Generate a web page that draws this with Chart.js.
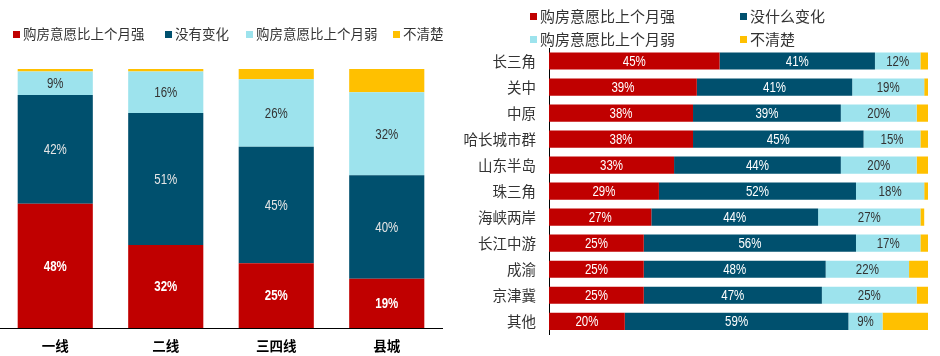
<!DOCTYPE html>
<html>
<head>
<meta charset="utf-8">
<script src="https://cdn.jsdelivr.net/npm/chart.js@4.4.1/dist/chart.umd.min.js"></script>
<style>
  html, body { margin: 0; padding: 0; background: #fff; }
  body { width: 940px; height: 356px; position: relative; overflow: hidden;
         font-family: "Noto Sans CJK SC", "Noto Sans", sans-serif; }
  .wrap { position: absolute; top: 0; height: 356px; }
  #leftWrap { left: 0; width: 470px; }
  #rightWrap { left: 440px; width: 500px; }
  .lg { position: absolute; white-space: nowrap; color: #333; line-height: 1; }
  .lg i { display: inline-block; width: 7px; height: 7px; margin-right: 3px; vertical-align: middle; position: relative; top: -1px; }
</style>
</head>
<body>
<div class="wrap" id="leftWrap"><canvas id="c1" width="470" height="356"></canvas></div>
<div class="wrap" id="rightWrap"><canvas id="c2" width="500" height="356"></canvas></div>
<div id="legends"></div>
<script>
// ---------- data ----------
const seriesNames = ["购房意愿比上个月强", "没有变化", "购房意愿比上个月弱", "不清楚"];
const rightSeriesNames = ["购房意愿比上个月强", "没什么变化", "购房意愿比上个月弱", "不清楚"];
const seriesColors = ["#C00000", "#00506E", "#9DE3ED", "#FFC000"];

const tierCategories = ["一线", "二线", "三四线", "县城"];
const tierStronger  = [48, 32, 25, 19];
const tierNoChange  = [42, 51, 45, 40];
const tierWeaker    = [9, 16, 26, 32];
const tierUnsure    = [1, 1, 4, 9];

const regionCategories = ["长三角", "关中", "中原", "哈长城市群", "山东半岛", "珠三角", "海峡两岸", "长江中游", "成渝", "京津冀", "其他"];
const regionStronger = [45, 39, 38, 38, 33, 29, 27, 25, 25, 25, 20];
const regionNoChange = [41, 41, 39, 45, 44, 52, 44, 56, 48, 47, 59];
const regionWeaker   = [12, 19, 20, 15, 20, 18, 27, 17, 22, 25, 9];
const regionUnsure   = [2, 1, 3, 2, 3, 1, 1, 2, 5, 3, 12];

// ---------- legends (HTML text) ----------
function addLegend(x, y, color, text, size) {
  const d = document.createElement('div');
  d.className = 'lg';
  d.style.left = x + 'px';
  d.style.top = (y - size / 2 - 1) + 'px';
  d.style.fontSize = size + 'px';
  d.innerHTML = '<i style="background:' + color + '"></i>' + text;
  document.getElementById('legends').appendChild(d);
}
const leftLegendX = [13, 165, 246, 393];
seriesNames.forEach((n, i) => addLegend(leftLegendX[i], 35, seriesColors[i], n, 13.5));
const rightLegendPos = [[530, 16], [740, 16], [530, 39], [740, 39]];
rightSeriesNames.forEach((n, i) => addLegend(rightLegendPos[i][0], rightLegendPos[i][1], seriesColors[i], n, 15));

// ---------- value label plugin (narrow text via horizontal scale) ----------
const labelPlugin = {
  id: 'valueLabels',
  afterDatasetsDraw(chart) {
    const ctx = chart.ctx;
    chart.data.datasets.forEach((ds, di) => {
      if (!ds.labelColor) return;
      const meta = chart.getDatasetMeta(di);
      meta.data.forEach((el, i) => {
        const p = el.getCenterPoint();
        ctx.save();
        ctx.translate(p.x, p.y);
        ctx.scale(0.82, 1);
        ctx.textAlign = 'center';
        ctx.textBaseline = 'middle';
        ctx.font = (ds.labelBold ? 'bold ' : '') + "14px 'Liberation Sans', Arial, sans-serif";
        ctx.fillStyle = ds.labelColor;
        ctx.fillText(Math.round(ds.data[i]) + '%', 0, 1);
        ctx.restore();
      });
    });
  }
};

function makeDatasets(names, arrays, labelColors, bold, barPct) {
  return names.map((n, i) => ({
    label: n,
    data: arrays[i],
    backgroundColor: seriesColors[i],
    borderWidth: 0,
    categoryPercentage: 1,
    barPercentage: barPct,
    labelColor: labelColors[i],
    labelBold: bold[i]
  }));
}

// ---------- left chart: vertical stacked ----------
new Chart(document.getElementById('c1'), {
  type: 'bar',
  data: {
    labels: tierCategories,
    datasets: makeDatasets(seriesNames, [tierStronger, tierNoChange, tierWeaker, tierUnsure],
      ['#FFFFFF', '#E6E6E6', '#333333', null], [true, false, false, false], 0.68)
  },
  plugins: [labelPlugin],
  options: {
    responsive: false,
    animation: false,
    layout: { padding: { left: 0, right: 28, top: 69, bottom: 0 } },
    plugins: { legend: { display: false }, tooltip: { enabled: false } },
    scales: {
      x: {
        stacked: true,
        grid: { display: false, drawTicks: false },
        border: { display: true, color: '#000', width: 1 },
        ticks: { color: '#000', padding: 10, font: { family: "'Noto Sans CJK SC', sans-serif", size: 13.5, weight: 'bold' } },
        afterFit(s) { s.height = 28; }
      },
      y: { stacked: true, display: false, min: 0, max: 100 }
    }
  }
});

// ---------- right chart: horizontal stacked ----------
new Chart(document.getElementById('c2'), {
  type: 'bar',
  data: {
    labels: regionCategories,
    datasets: makeDatasets(rightSeriesNames, [regionStronger, regionNoChange, regionWeaker, regionUnsure],
      ['#FFFFFF', '#FFFFFF', '#333333', null], [false, false, false, false], 0.66)
  },
  plugins: [labelPlugin],
  options: {
    indexAxis: 'y',
    responsive: false,
    animation: false,
    layout: { padding: { left: 0, right: 12, top: 48, bottom: 8 } },
    plugins: { legend: { display: false }, tooltip: { enabled: false } },
    scales: {
      x: { stacked: true, display: false, min: 0, max: 100 },
      y: {
        stacked: true,
        grid: { display: false, drawTicks: false },
        border: { display: true, color: '#000', width: 1 },
        ticks: { color: '#333', padding: 13, font: { family: "'Noto Sans CJK SC', sans-serif", size: 14.5 } },
        afterFit(s) { s.width = 109; }
      }
    }
  }
});
</script>
</body>
</html>
